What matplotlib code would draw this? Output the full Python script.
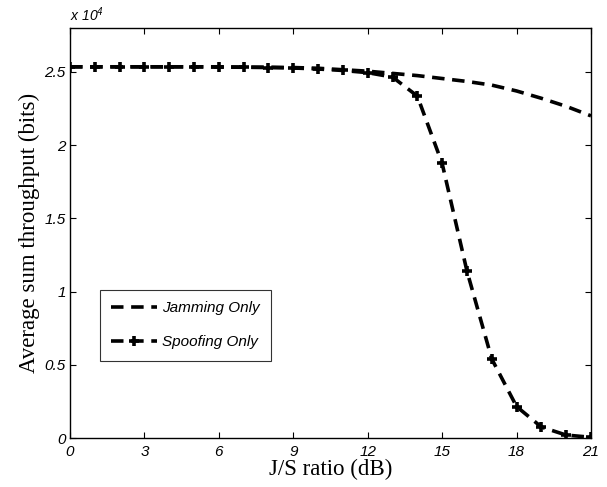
import matplotlib
matplotlib.use("Agg")
import matplotlib.pyplot as plt
from matplotlib.ticker import FuncFormatter

js_db = list(range(0, 22))
jamming = [2.535, 2.535, 2.535, 2.535, 2.535, 2.535, 2.535, 2.533, 2.532, 2.53,
           2.525, 2.515, 2.505, 2.49, 2.475, 2.455, 2.435, 2.41, 2.37, 2.32,
           2.265, 2.20]
spoofing = [2.535, 2.535, 2.535, 2.535, 2.535, 2.535, 2.533, 2.532, 2.53, 2.527,
            2.52, 2.51, 2.495, 2.465, 2.335, 1.875, 1.14, 0.54, 0.215, 0.075,
            0.02, 0.005]
scale = 1e4
jamming_bits = [v * scale for v in jamming]
spoofing_bits = [v * scale for v in spoofing]
xticks = [0, 3, 6, 9, 12, 15, 18, 21]
yticks = [0, 0.5e4, 1e4, 1.5e4, 2e4, 2.5e4]

plt.rcParams['lines.scale_dashes'] = False
plt.rcParams['mathtext.fontset'] = 'custom'
plt.rcParams['mathtext.rm'] = 'Liberation Sans:italic'
plt.rcParams['mathtext.it'] = 'Liberation Sans:italic'

fig = plt.figure(figsize=(6.07, 4.87), dpi=100)
ax = fig.add_axes([70/607, 49/487, 521/607, 410/487])

ax.plot(js_db, jamming_bits, color='black', lw=2.6, dashes=(9.0, 5.5),
        label='Jamming Only')
ax.plot(js_db, spoofing_bits, color='black', lw=2.6, dashes=(9.0, 5.5),
        marker='+', ms=7.5, mew=2.6, label='Spoofing Only')

ax.set_xlim(0, 21)
ax.set_ylim(0, 2.8e4)
ax.set_xticks(xticks)
ax.set_yticks(yticks)
ax.yaxis.set_major_formatter(FuncFormatter(lambda v, p: ('%g' % (v / scale))))
ax.tick_params(direction='in', top=True, right=True, length=4, width=0.8,
               labelsize=11)
ax.tick_params(axis='x', pad=5)
ax.tick_params(axis='y', pad=3)
for lab in ax.get_xticklabels() + ax.get_yticklabels():
    lab.set_fontfamily('Liberation Sans')
    lab.set_fontstyle('italic')
for s in ax.spines.values():
    s.set_linewidth(1.0)

ax.set_xlabel('J/S ratio (dB)', family='Liberation Serif', fontsize=16.5, labelpad=0)
ax.set_ylabel('Average sum throughput (bits)', family='Liberation Serif',
              fontsize=16.5, labelpad=3)

fig.text(70/607, 1 - 21/487, r'x 10$^{4}$', family='Liberation Sans', style='italic',
         fontsize=10, ha='left', va='baseline')

leg = ax.legend(loc='upper left', bbox_to_anchor=((100-70)/521, (438-290)/410),
                borderaxespad=0, frameon=True, fancybox=False, handlelength=2.95,
                handletextpad=0.35, borderpad=0.75, labelspacing=1.3,
                prop=dict(family='Liberation Sans', style='italic', size=11))
leg.get_frame().set_edgecolor('black')
leg.get_frame().set_linewidth(0.8)

fig.savefig('out.png', dpi=100)
